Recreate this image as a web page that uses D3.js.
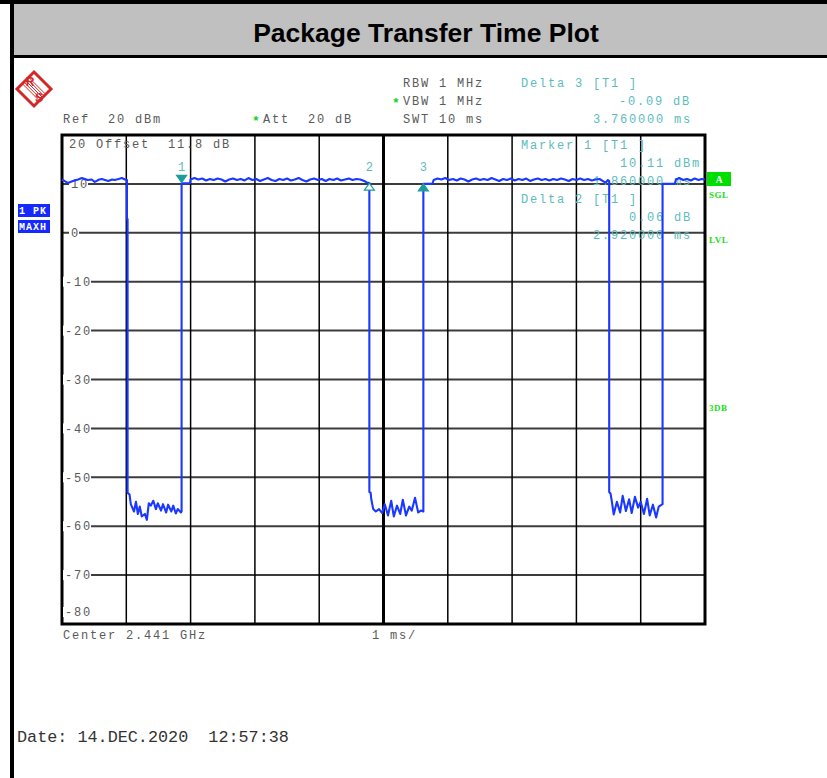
<!DOCTYPE html>
<html>
<head>
<meta charset="utf-8">
<script src="https://cdn.jsdelivr.net/npm/d3@7"></script>
<style>
  body { margin: 0; background: #fff; }
  svg { display: block; }
  text { white-space: pre; }
</style>
</head>
<body>
<svg id="chart" width="827" height="778" xml:space="preserve"></svg>
<script>
// Data
const title = 'Package Transfer Time Plot';
const timeDomain = [0, 10];      // ms, 1 ms/div
const levelDomain = [-80, 20];   // dBm
const levelTicks = [20, 10, 0, -10, -20, -30, -40, -50, -60, -70, -80];
const timeGrid = [1, 2, 3, 4, 5, 6, 7, 8, 9];

// trace, [ms, dBm]
const highA = [[0, 10.9], [0.05, 10.5], [0.09, 10.2], [0.17, 10.6], [0.25, 10.9], [0.31, 11.2], [0.4, 10.8],
  [0.46, 10.9], [0.51, 10.4], [0.58, 10.9], [0.62, 11.0], [0.72, 10.6], [0.78, 10.9], [0.82, 10.8],
  [0.88, 11.0], [0.93, 11.2], [0.98, 10.9], [1.01, 10.8], [1.01, 2.8], [1.02, 2.8]];
const lowA = [[1.02, -53.2], [1.05, -53.5], [1.07, -55.5], [1.12, -57.0], [1.15, -55.0], [1.18, -57.5],
  [1.21, -56.0], [1.24, -58.0], [1.29, -57.5], [1.32, -58.7], [1.35, -55.3], [1.38, -55.8], [1.42, -54.8],
  [1.46, -56.5], [1.49, -55.3], [1.54, -56.8], [1.57, -55.5], [1.62, -57.2], [1.65, -55.6], [1.70, -57.0],
  [1.73, -55.8], [1.77, -57.4], [1.80, -56.5], [1.85, -57.2], [1.86, -57.0]];
const highB = [[1.86, 10.11], [1.99, 10.1], [2.0, 10.9], [2.06, 11.2], [2.12, 10.9], [2.18, 11.1], [2.24, 10.7],
  [2.30, 11.0], [2.36, 10.8], [2.42, 11.1], [2.48, 10.9], [2.54, 10.5], [2.60, 10.9], [2.66, 11.1],
  [2.72, 10.8], [2.78, 11.0], [2.84, 10.7], [2.90, 11.2], [2.96, 10.8], [3.02, 11.0], [3.08, 10.6],
  [3.14, 10.9], [3.20, 11.2], [3.26, 10.8], [3.32, 10.6], [3.38, 11.0], [3.44, 10.8], [3.50, 11.1],
  [3.56, 10.7], [3.62, 10.9], [3.68, 11.2], [3.74, 10.8], [3.80, 10.5], [3.86, 10.9], [3.92, 11.1],
  [3.98, 10.8], [4.04, 11.0], [4.10, 10.6], [4.16, 11.0], [4.22, 10.8], [4.28, 11.1], [4.34, 10.7],
  [4.40, 10.9], [4.46, 11.1], [4.52, 10.8], [4.58, 11.0], [4.64, 10.9], [4.70, 10.6], [4.74, 10.3], [4.78, 10.17]];
const lowB = [[4.78, -53.0], [4.80, -53.2], [4.81, -54.5], [4.84, -56.5], [4.88, -57.0], [4.93, -56.5],
  [4.98, -57.3], [5.02, -55.5], [5.07, -57.8], [5.12, -54.8], [5.16, -58.0], [5.21, -55.8], [5.26, -57.5],
  [5.30, -54.6], [5.35, -57.8], [5.40, -56.0], [5.44, -56.8], [5.49, -54.2], [5.54, -57.2], [5.58, -56.8],
  [5.62, -57.0]];
const highC = [[5.62, 10.02], [5.76, 10.0], [5.78, 10.8], [5.84, 11.1], [5.90, 10.9], [5.96, 11.2], [6.02, 10.8],
  [6.08, 11.0], [6.14, 10.7], [6.20, 11.1], [6.26, 10.9], [6.32, 10.5], [6.38, 10.9], [6.44, 11.1],
  [6.50, 10.8], [6.56, 11.0], [6.62, 10.8], [6.68, 11.2], [6.74, 10.9], [6.80, 10.6], [6.86, 11.0],
  [6.92, 10.8], [6.98, 11.1], [7.04, 10.7], [7.10, 11.0], [7.16, 10.8], [7.22, 11.1], [7.28, 10.6],
  [7.34, 10.9], [7.40, 11.1], [7.46, 10.8], [7.52, 11.0], [7.58, 10.7], [7.64, 11.0], [7.70, 10.8],
  [7.76, 11.1], [7.82, 10.9], [7.88, 10.6], [7.94, 11.0], [8.00, 10.8], [8.06, 11.1], [8.12, 10.8],
  [8.18, 11.0], [8.24, 10.7], [8.30, 10.9], [8.36, 11.0], [8.42, 10.5], [8.46, 10.3], [8.49, 10.8], [8.51, 10.6]];
const lowC = [[8.51, -53.0], [8.53, -53.3], [8.55, -54.8], [8.58, -57.6], [8.63, -55.0], [8.68, -57.2],
  [8.72, -53.8], [8.77, -56.9], [8.82, -54.5], [8.86, -57.3], [8.91, -54.0], [8.96, -56.2], [9.00, -55.0],
  [9.05, -57.5], [9.10, -54.4], [9.14, -57.8], [9.19, -55.6], [9.24, -58.2], [9.28, -56.0], [9.34, -55.5]];
const highD = [[9.34, 10.0], [9.53, 10.0], [9.55, 10.9], [9.60, 11.2], [9.66, 10.8], [9.72, 11.0],
  [9.78, 10.7], [9.84, 11.1], [9.90, 10.8], [9.95, 11.0], [10, 10.9]];

const markers = [
  { id: '1', t: 1.86, level: 10.11, kind: 'marker' },
  { id: '2', t: 4.78, level: 10.17, kind: 'deltaOpen' },
  { id: '3', t: 5.62, level: 10.02, kind: 'delta' }
];

const settingsText = ['RBW 1 MHz', 'VBW 1 MHz', 'SWT 10 ms'];
const delta3Text = ['Delta 3 [T1 ]', '-0.09 dB', '3.760000 ms'];
const marker1Text = ['Marker 1 [T1 ]', '10.11 dBm', '1.860000 ms'];
const delta2Text = ['Delta 2 [T1 ]', '0.06 dB', '2.920000 ms'];
const refText = 'Ref  20 dBm';
const attText = 'Att  20 dB';
const offsetText = '20 Offset  11.8 dB';
const footerLeft = 'Center 2.441 GHz';
const footerMid = '1 ms/';
const dateText = 'Date: 14.DEC.2020  12:57:38';
const sideFlags = ['SGL', 'LVL', '3DB'];

// Setup
const svg = d3.select('#chart');
const W = 827, H = 778;
const plot = { left: 62, right: 705, top: 135, bottom: 624 };

const x = d3.scaleLinear().domain(timeDomain).range([plot.left, plot.right]);
const y = d3.scaleLinear().domain(levelDomain).range([plot.bottom, plot.top]);

const mono = "'Liberation Mono', 'DejaVu Sans Mono', monospace";
const grayText = '#5a5a5a';
const tealText = '#5cbcbc';
const tealMark = '#1c9c9c';
const traceBlue = '#1a38ff';
const green = '#16e016';

function monoText(tx, ty, str, color, anchor) {
  return svg.append('text')
    .attr('x', tx).attr('y', ty).attr('dy', '0.35em')
    .attr('font-family', mono).attr('font-size', 12)
    .attr('letter-spacing', '1.8px')
    .attr('text-anchor', anchor || 'start')
    .attr('fill', color)
    .text(str);
}

svg.append('rect').attr('width', W).attr('height', H).attr('fill', '#fff');

// Frame + title band
svg.append('rect').attr('x', 0).attr('y', 0).attr('width', W).attr('height', 4).attr('fill', '#000');
svg.append('rect').attr('x', 10).attr('y', 4).attr('width', W - 10).attr('height', 51).attr('fill', '#c0c0c0');
svg.append('rect').attr('x', 10).attr('y', 55).attr('width', W - 10).attr('height', 3).attr('fill', '#000');
svg.append('rect').attr('x', 10).attr('y', 0).attr('width', 4).attr('height', H).attr('fill', '#000');

svg.append('text')
  .attr('x', 426).attr('y', 42)
  .attr('text-anchor', 'middle')
  .attr('font-family', "'Liberation Sans', Arial, sans-serif")
  .attr('font-weight', 'bold').attr('font-size', 26.5)
  .attr('fill', '#000')
  .text(title);

// R&S logo
const logo = svg.append('g').attr('transform', 'translate(34,89)');
logo.append('path').attr('d', 'M0,-17L17,0L0,17L-17,0Z')
  .attr('fill', '#fff').attr('stroke', '#d42828').attr('stroke-width', 3);
[-3.2, -1.6, 0, 1.6, 3.2].forEach(o => {
  logo.append('line')
    .attr('x1', -8 + o).attr('y1', -8 - o).attr('x2', 8 + o).attr('y2', 8 - o)
    .attr('stroke', '#d42828').attr('stroke-width', 1);
});
logo.append('text').attr('x', -4).attr('y', -3).attr('text-anchor', 'middle')
  .attr('font-family', "'Liberation Sans', sans-serif").attr('font-weight', 'bold')
  .attr('font-size', 12).attr('fill', '#d42828').text('R');
logo.append('text').attr('x', 5).attr('y', 13).attr('text-anchor', 'middle')
  .attr('font-family', "'Liberation Sans', sans-serif").attr('font-weight', 'bold')
  .attr('font-size', 12).attr('fill', '#d42828').text('S');

// Header text
settingsText.forEach((s, i) => monoText(403, 83 + i * 18, s, grayText));
monoText(63, 119, refText, grayText);
monoText(263, 119, attText, grayText);
[[396, 101], [256, 119]].forEach(p => {
  svg.append('text').attr('x', p[0]).attr('y', p[1] + 6).attr('text-anchor', 'middle')
    .attr('font-family', mono).attr('font-weight', 'bold').attr('font-size', 13)
    .attr('fill', '#22cc22').text('*');
});
monoText(521, 83, delta3Text[0], tealText);
monoText(619, 101, delta3Text[1], tealText);
monoText(593, 119, delta3Text[2], tealText);

// Grid
const grid = svg.append('g');
levelTicks.filter(v => v > levelDomain[0] && v < levelDomain[1]).forEach(v => {
  grid.append('line')
    .attr('x1', plot.left).attr('x2', plot.right)
    .attr('y1', y(v)).attr('y2', y(v))
    .attr('stroke', '#3c3c3c').attr('stroke-width', 2);
});
timeGrid.forEach(t => {
  grid.append('line')
    .attr('x1', x(t)).attr('x2', x(t))
    .attr('y1', plot.top).attr('y2', plot.bottom)
    .attr('stroke', '#000').attr('stroke-width', t === 5 ? 3 : 1.5);
});
svg.append('rect')
  .attr('x', plot.left).attr('y', plot.top)
  .attr('width', plot.right - plot.left).attr('height', plot.bottom - plot.top)
  .attr('fill', 'none').attr('stroke', '#000').attr('stroke-width', 3);

// Level labels
levelTicks.forEach(v => {
  let ly = y(v);
  if (v === levelDomain[1]) ly += 9;
  if (v === levelDomain[0]) ly -= 12;
  const lx = v < 0 ? 65 : 71;
  const label = v === levelDomain[1] ? null : monoText(lx, ly, String(v), grayText);
  if (label) {
    const bb = label.node().getBBox();
    svg.insert('rect', () => label.node())
      .attr('x', bb.x - 2).attr('y', ly - 5).attr('width', bb.width + 1).attr('height', 10)
      .attr('fill', '#fff');
  }
});
// top label shares line with the offset text
monoText(69, 144, offsetText, grayText);

// Marker text block
monoText(521, 145, marker1Text[0], tealText);
monoText(620, 163, marker1Text[1], tealText);
monoText(593, 181, marker1Text[2], tealText);
monoText(521, 199, delta2Text[0], tealText);
monoText(629, 217, delta2Text[1], tealText);
monoText(593, 235, delta2Text[2], tealText);

// Trace
const trace = [].concat(highA, lowA, highB, lowB, highC, lowC, highD);
const line = d3.line().x(d => x(d[0])).y(d => y(d[1]));
svg.append('path')
  .datum(trace)
  .attr('d', line)
  .attr('fill', 'none')
  .attr('stroke', traceBlue)
  .attr('stroke-width', 2.1)
  .attr('stroke-linejoin', 'round');

// Markers
markers.forEach(m => {
  const mx = x(m.t), my = y(m.level);
  let d;
  if (m.kind === 'marker') d = `M${mx - 5},${my - 8}L${mx + 5},${my - 8}L${mx},${my - 1}Z`;
  else d = `M${mx},${my}L${mx + 5},${my + 7}L${mx - 5},${my + 7}Z`;
  svg.append('path').attr('d', d)
    .attr('fill', m.kind === 'deltaOpen' ? '#fff' : tealMark)
    .attr('stroke', tealMark).attr('stroke-width', 1.2);
  svg.append('text')
    .attr('x', mx).attr('y', 167).attr('dy', '0.35em')
    .attr('text-anchor', 'middle')
    .attr('font-family', mono).attr('font-size', 12)
    .attr('fill', tealText)
    .text(m.id);
});

// Left status boxes
[['1 PK', 204], ['MAXH', 220]].forEach(b => {
  svg.append('rect').attr('x', 18).attr('y', b[1]).attr('width', 32).attr('height', 13).attr('fill', '#1428ff');
  svg.append('text').attr('x', 19).attr('y', b[1] + 10)
    .attr('font-family', mono).attr('font-weight', 'bold').attr('font-size', 10)
    .attr('letter-spacing', '1px')
    .attr('fill', '#fff').text(b[0]);
});

// Right status flags
svg.append('rect').attr('x', 707).attr('y', 172).attr('width', 24).attr('height', 14).attr('fill', '#00dd00');
svg.append('text').attr('x', 719).attr('y', 183).attr('text-anchor', 'middle')
  .attr('font-family', "'Liberation Serif', serif").attr('font-weight', 'bold').attr('font-size', 10)
  .attr('fill', '#fff').text('A');
[195, 240, 408].forEach((fy, i) => {
  svg.append('text').attr('x', 709).attr('y', fy).attr('dy', '0.35em')
    .attr('font-family', "'Liberation Serif', serif").attr('font-weight', 'bold').attr('font-size', 9)
    .attr('letter-spacing', '0.5px')
    .attr('fill', green).text(sideFlags[i]);
});

// Footer
monoText(63, 635, footerLeft, grayText);
monoText(372, 635, footerMid, grayText);
svg.append('text')
  .attr('x', 17).attr('y', 736).attr('dy', '0.35em')
  .attr('font-family', mono).attr('font-size', 16.8)
  .attr('fill', '#333')
  .text(dateText);
</script>
</body>
</html>
